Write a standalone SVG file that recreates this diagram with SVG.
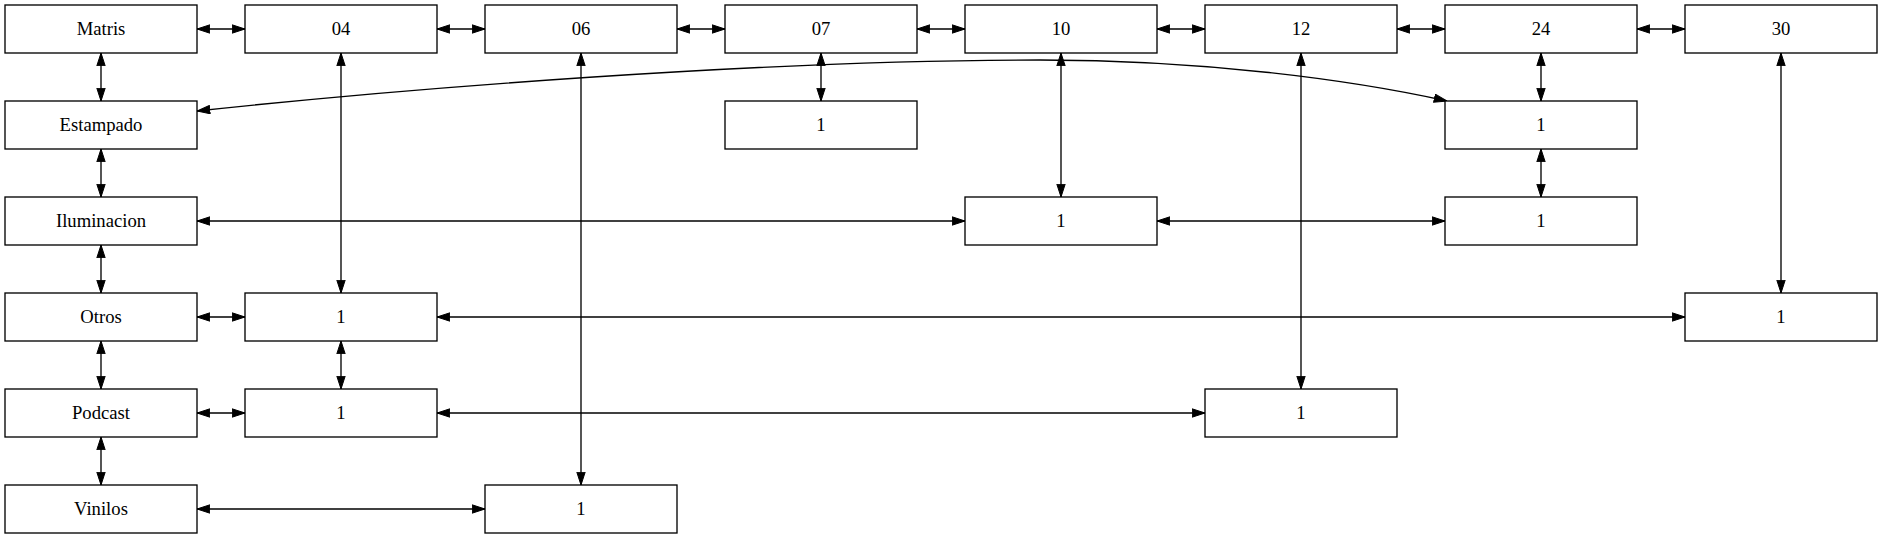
<svg xmlns="http://www.w3.org/2000/svg" width="1883" height="539" viewBox="0 0 1883 539">
<style>
.n rect{fill:#fff;stroke:#000;stroke-width:1.33}
.n text{font-family:'Liberation Serif','DejaVu Serif',serif;font-size:18.67px;text-anchor:middle;fill:#000}
#edges path{fill:none;stroke:#000;stroke-width:1.33;marker-start:url(#ah);marker-end:url(#ah)}
</style>
<defs>
<marker id="ah" viewBox="0 0 13.33 9.34" refX="13.33" refY="4.67" markerWidth="13.33" markerHeight="9.34" markerUnits="userSpaceOnUse" orient="auto-start-reverse">
<path d="M0.5,0.5 L13.33,4.67 L0.5,8.84 Z" fill="#000" stroke="#000" stroke-width="1"/>
</marker>
</defs>
<rect width="1883" height="539" fill="#fff"/>
<g id="edges">
<path d="M197,29 H245"/>
<path d="M437,29 H485"/>
<path d="M677,29 H725"/>
<path d="M917,29 H965"/>
<path d="M1157,29 H1205"/>
<path d="M1397,29 H1445"/>
<path d="M1637,29 H1685"/>
<path d="M101,53 V101"/>
<path d="M101,149 V197"/>
<path d="M101,245 V293"/>
<path d="M101,341 V389"/>
<path d="M101,437 V485"/>
<path d="M341,53 V293"/>
<path d="M581,53 V485"/>
<path d="M821,53 V101"/>
<path d="M1061,53 V197"/>
<path d="M1301,53 V389"/>
<path d="M1541,53 V101"/>
<path d="M1781,53 V293"/>
<path d="M1541,149 V197"/>
<path d="M197,111 C400,89 760,60 1040,60 C1200,60 1347,79 1447,101"/>
<path d="M197,221 H965"/>
<path d="M1157,221 H1445"/>
<path d="M197,317 H245"/>
<path d="M437,317 H1685"/>
<path d="M341,341 V389"/>
<path d="M197,413 H245"/>
<path d="M437,413 H1205"/>
<path d="M197,509 H485"/>
</g>
<g id="matris" class="n"><rect x="5" y="5" width="192" height="48"/><text x="101" y="35">Matris</text></g>
<g id="c04" class="n"><rect x="245" y="5" width="192" height="48"/><text x="341" y="35">04</text></g>
<g id="c06" class="n"><rect x="485" y="5" width="192" height="48"/><text x="581" y="35">06</text></g>
<g id="c07" class="n"><rect x="725" y="5" width="192" height="48"/><text x="821" y="35">07</text></g>
<g id="c10" class="n"><rect x="965" y="5" width="192" height="48"/><text x="1061" y="35">10</text></g>
<g id="c12" class="n"><rect x="1205" y="5" width="192" height="48"/><text x="1301" y="35">12</text></g>
<g id="c24" class="n"><rect x="1445" y="5" width="192" height="48"/><text x="1541" y="35">24</text></g>
<g id="c30" class="n"><rect x="1685" y="5" width="192" height="48"/><text x="1781" y="35">30</text></g>
<g id="estampado" class="n"><rect x="5" y="101" width="192" height="48"/><text x="101" y="131">Estampado</text></g>
<g id="iluminacion" class="n"><rect x="5" y="197" width="192" height="48"/><text x="101" y="227">Iluminacion</text></g>
<g id="otros" class="n"><rect x="5" y="293" width="192" height="48"/><text x="101" y="323">Otros</text></g>
<g id="podcast" class="n"><rect x="5" y="389" width="192" height="48"/><text x="101" y="419">Podcast</text></g>
<g id="vinilos" class="n"><rect x="5" y="485" width="192" height="48"/><text x="101" y="515">Vinilos</text></g>
<g id="est07" class="n"><rect x="725" y="101" width="192" height="48"/><text x="821" y="131">1</text></g>
<g id="est24" class="n"><rect x="1445" y="101" width="192" height="48"/><text x="1541" y="131">1</text></g>
<g id="ilu10" class="n"><rect x="965" y="197" width="192" height="48"/><text x="1061" y="227">1</text></g>
<g id="ilu24" class="n"><rect x="1445" y="197" width="192" height="48"/><text x="1541" y="227">1</text></g>
<g id="otr04" class="n"><rect x="245" y="293" width="192" height="48"/><text x="341" y="323">1</text></g>
<g id="otr30" class="n"><rect x="1685" y="293" width="192" height="48"/><text x="1781" y="323">1</text></g>
<g id="pod04" class="n"><rect x="245" y="389" width="192" height="48"/><text x="341" y="419">1</text></g>
<g id="pod12" class="n"><rect x="1205" y="389" width="192" height="48"/><text x="1301" y="419">1</text></g>
<g id="vin06" class="n"><rect x="485" y="485" width="192" height="48"/><text x="581" y="515">1</text></g>
</svg>
